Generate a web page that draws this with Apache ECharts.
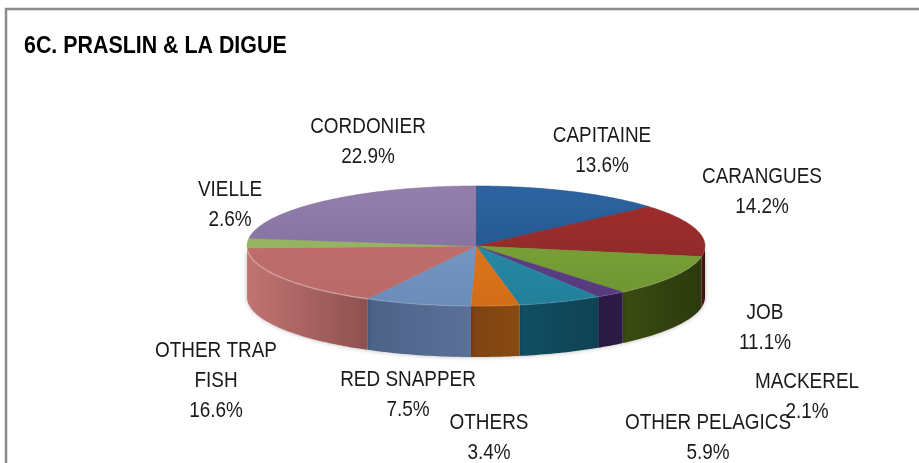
<!DOCTYPE html>
<html>
<head>
<meta charset="utf-8">
<style>
  html, body { margin: 0; padding: 0; background: #fff; }
  #chart { width: 919px; height: 463px; }
</style>
<script src="https://cdn.jsdelivr.net/npm/echarts@6/dist/echarts.min.js"></script>
</head>
<body>
<div id="chart"></div>
<script>
const names = ['CAPITAINE', 'CARANGUES', 'JOB', 'MACKEREL', 'OTHER PELAGICS', 'OTHERS', 'RED SNAPPER', 'OTHER TRAP\nFISH', 'VIELLE', 'CORDONIER'];
const shares = [13.6, 14.2, 11.1, 2.1, 5.9, 3.4, 7.5, 16.6, 2.6, 22.9];
const total = shares.reduce((a, b) => a + b, 0);

// top face colours [back, front]
const topColors = [
  ['#2d64a0', '#1f4f85'], ['#a32e2c', '#85282a'], ['#86ac3e', '#6c9430'], ['#63458f', '#56397c'], ['#2b93ae', '#227f9a'],
  ['#e47a1e', '#d26e18'], ['#7d9fcb', '#6b8cb8'], ['#c56f6e', '#b86a68'], ['#9aba68', '#8fae5c'], ['#937eac', '#7d6a98']
];
// side wall colours [left, right]
const sideColors = [
  ['#1f3d66', '#1f3d66'], ['#5e1a1a', '#3c1010'], ['#3a4c12', '#2c3a0c'], ['#2a1a44', '#2a1a44'], ['#114e62', '#0f4254'],
  ['#7e4312', '#8a4a10'], ['#4c6388', '#5a7098'], ['#c27472', '#8e5150'], ['#a87a70', '#a87a70'], ['#6b5a80', '#6b5a80']
];
// rim highlight, only the pink slice really shows one
const lipColors = ['', 'rgba(255,255,255,0.08)', 'rgba(255,255,255,0.08)', 'rgba(255,255,255,0.08)', 'rgba(255,255,255,0.08)',
  'rgba(255,255,255,0.08)', 'rgba(255,255,255,0.12)', 'rgba(255,255,255,0.3)', '', ''];

// label centres, layed out by hand like the original
const labelPos = [[602, 151], [762, 192], [765, 328], [807, 397], [708, 438], [489, 438], [408, 395], [216, 381], [230, 205], [368, 142]];

const labelFont = '"Liberation Sans", Arial, sans-serif';
const cx = 476, cy = 246, rx = 229, ry = 60, depth = 51;

function rimPoint(deg, dy) {
  const a = deg * Math.PI / 180;
  return [cx + rx * Math.sin(a), cy - ry * Math.cos(a) + (dy || 0)];
}

function renderSlice(params, api) {
  const i = params.dataIndex;
  let before = 0;
  for (let k = 0; k < i; k++) before += shares[k];
  const start = before / total * 360;
  const end = (before + api.value(0)) / total * 360;
  const children = [];

  // top face
  const topPts = [[cx, cy]];
  for (let d = start; d < end; d += 1) topPts.push(rimPoint(d));
  topPts.push(rimPoint(end));
  children.push({
    type: 'polygon',
    z2: 2,
    shape: { points: topPts },
    style: {
      fill: {
        type: 'linear', x: 0, y: cy - ry, x2: 0, y2: cy + ry, global: true,
        colorStops: [{ offset: 0, color: topColors[i][0] }, { offset: 1, color: topColors[i][1] }]
      },
      stroke: topColors[i][1],
      lineWidth: 0.5
    }
  });

  // side wall, only the front half shows
  const a0 = Math.max(start, 90), a1 = Math.min(end, 270);
  if (a1 > a0) {
    const upper = [], lower = [];
    for (let d = a0; d < a1; d += 1) {
      upper.push(rimPoint(d));
      lower.push(rimPoint(d, depth));
    }
    upper.push(rimPoint(a1));
    lower.push(rimPoint(a1, depth));
    const xs = upper.map(p => p[0]);
    children.push({
      type: 'polygon',
      z2: 1,
      shape: { points: upper.concat(lower.slice().reverse()) },
      style: {
        fill: {
          type: 'linear', x: Math.min(...xs), y: 0, x2: Math.max(...xs), y2: 0, global: true,
          colorStops: [{ offset: 0, color: sideColors[i][0] }, { offset: 1, color: sideColors[i][1] }]
        },
        shadowColor: 'rgba(0,0,0,0.3)',
        shadowBlur: 4
      }
    });
    if (lipColors[i]) {
      children.push({
        type: 'polyline',
        z2: 3,
        shape: { points: upper },
        style: { stroke: lipColors[i], lineWidth: 1.5, fill: null }
      });
    }
  }

  // label
  children.push({
    type: 'text',
    z2: 4,
    x: labelPos[i][0],
    y: labelPos[i][1],
    scaleX: 0.86,
    style: {
      text: names[i] + '\n' + api.value(0).toFixed(1) + '%',
      fontFamily: labelFont,
      fontSize: 22,
      lineHeight: 30,
      fill: '#1a1a1a',
      align: 'center',
      verticalAlign: 'middle'
    }
  });

  return { type: 'group', children };
}

const myChart = echarts.init(document.getElementById('chart'), null, { renderer: 'canvas' });
myChart.setOption({
  animation: false,
  backgroundColor: '#fff',
  graphic: [
    {
      type: 'polyline',
      shape: { points: [[6, 463], [6, 9], [919, 9]] },
      style: { stroke: '#8a8a8a', lineWidth: 2.5, fill: null }
    },
    {
      type: 'text',
      x: 24,
      y: 47,
      scaleX: 0.93,
      style: {
        text: '6C. PRASLIN & LA DIGUE',
        fontFamily: labelFont,
        fontSize: 23,
        fontWeight: 'bold',
        fill: '#000',
        align: 'left',
        verticalAlign: 'middle'
      }
    }
  ],
  series: [{
    type: 'custom',
    coordinateSystem: 'none',
    renderItem: renderSlice,
    data: shares.map(v => [v])
  }]
});
</script>
</body>
</html>
